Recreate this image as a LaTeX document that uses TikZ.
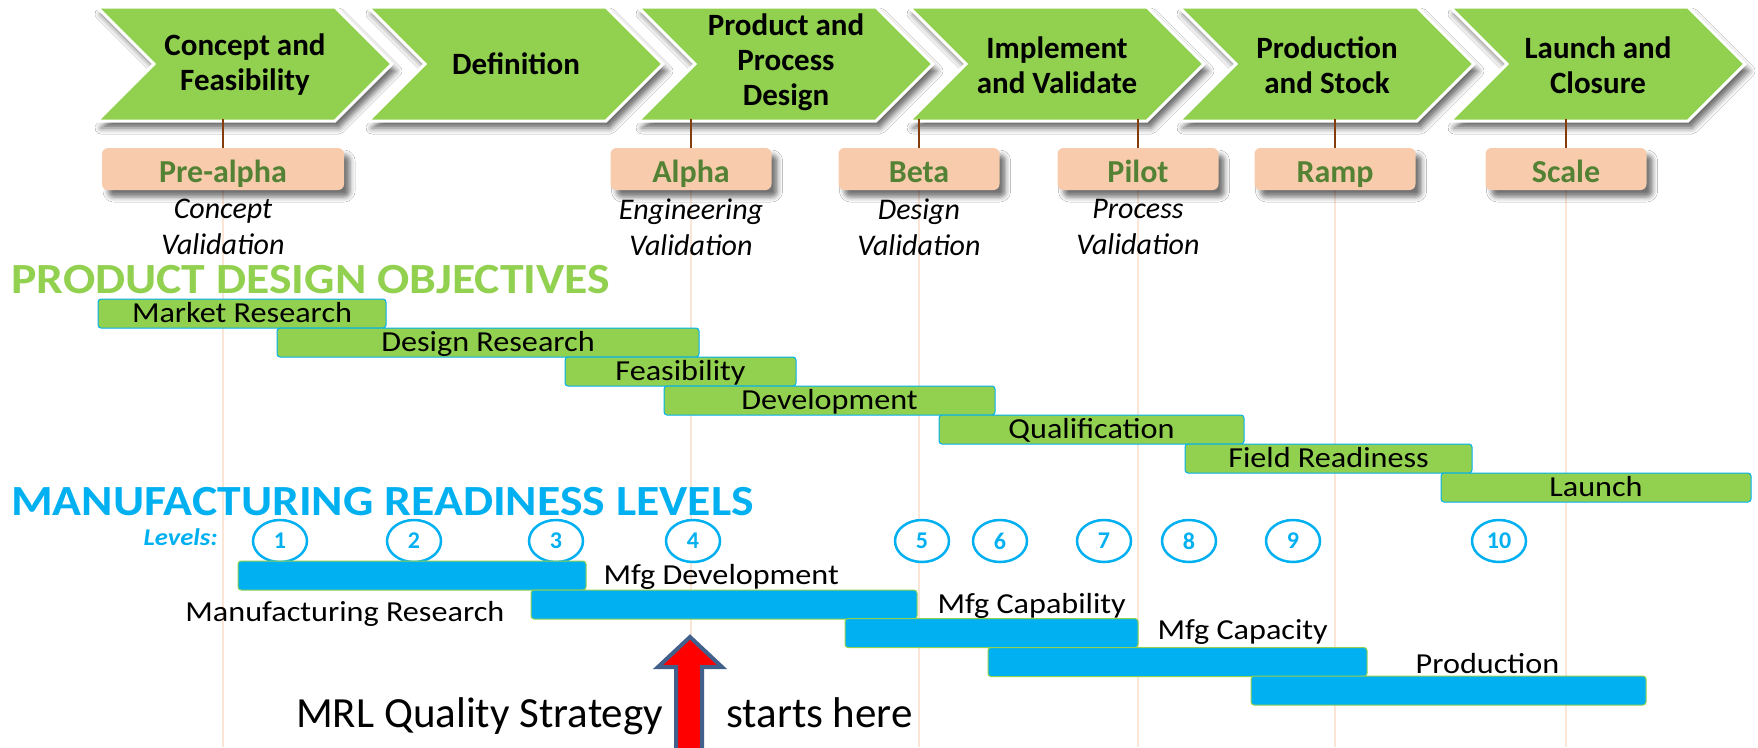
\documentclass[tikz,border=0pt]{standalone}
\usepackage{fontspec}
\setmainfont{Carlito}
\newfontfamily\widefont[FakeStretch=1.11]{Carlito}
\usepackage{tikz}
\usetikzlibrary{
  positioning, arrows.meta, calc, shapes.geometric,
  shadows.blur, backgrounds
}
\usepackage{xcolor}

\definecolor{phasegreen}{HTML}{92D050}
\definecolor{mrlblue}{HTML}{00B0F0}
\definecolor{gatepeach}{HTML}{F8CBAD}
\definecolor{gatetext}{HTML}{548235}
\definecolor{gatetick}{HTML}{843C0C}
\definecolor{guideline}{HTML}{FBE5D6}
\definecolor{arrowedge}{HTML}{41608C}

\newcommand{\fsz}[2]{\fontsize{#1}{#2}\selectfont}

\tikzset{
  phase/.style={fill=phasegreen, draw=white, line width=3pt, line join=miter,
    blur shadow={shadow xshift=4pt, shadow yshift=-7pt,
      shadow blur radius=6pt, shadow opacity=60}},
  phasetext/.style={align=center, font=\fsz{31}{35}\bfseries},
  gate/.style={fill=gatepeach, rounded corners=6pt, minimum height=42pt,
    inner sep=0pt, text height=28pt, text depth=2pt,
    font=\fsz{32}{34}\bfseries, text=gatetext,
    blur shadow={shadow xshift=6pt, shadow yshift=-7pt,
      shadow blur radius=5pt, shadow opacity=55}},
  gatetick/.style={draw=gatetick, line width=2pt},
  guide/.style={draw=guideline, line width=2pt},
  stage/.style={align=center, font=\fsz{30}{36}\itshape},
  heading/.style={font=\widefont\fsz{43}{48}\bfseries, anchor=base west,
    inner sep=0pt},
  objbar/.style={fill=phasegreen, draw=mrlblue, line width=1pt,
    rounded corners=3pt, minimum height=29pt, inner sep=0pt,
    text height=20pt, text depth=2pt, font=\widefont\fsz{29}{32}},
  mrlbar/.style={fill=mrlblue, draw=phasegreen, line width=1pt,
    rounded corners=3pt, minimum height=29pt, inner sep=0pt},
  mrllabel/.style={font=\widefont\fsz{29}{32}, inner sep=0pt},
  level/.style={ellipse, draw=mrlblue, line width=2.5pt, fill=white,
    minimum width=54pt, minimum height=42pt, inner sep=0pt,
    text=mrlblue, font=\fsz{24}{26}\bfseries},
}

\begin{document}
\begin{tikzpicture}[x=1pt, y=-1pt]
\useasboundingbox (0,0) rectangle (1758,747);
\coordinate (phasebase) at (0,119);
\coordinate (pagebottom) at (0,747);

% phase chevrons
\foreach \l/\ty/\txt [count=\i] in {97/65/{Concept and\\Feasibility},
    368/64/{Definition}, 638/62/{Product and\\Process\\Design},
    909/65/{Implement\\and Validate}, 1179/65/{Production\\and Stock},
    1450/65/{Launch and\\Closure}}{
  \path[phase, shift={(\l,0)}] (0,7) -- (238,7) -- (295,64) -- (238,121)
    -- (0,121) -- (57,64) -- cycle;
  \node[phasetext] (phase\i) at (\l+148,\ty) {\txt};
}

% gates
\node[gate, minimum width=242pt] (prealpha) at (223,169) {Pre-alpha};
\node[gate, minimum width=161pt] (alpha) at (691,169) {Alpha};
\node[gate, minimum width=161pt] (beta) at (919,169) {Beta};
\node[gate, minimum width=161pt] (pilot) at (1138,169) {Pilot};
\node[gate, minimum width=161pt] (ramp) at (1335,169) {Ramp};
\node[gate, minimum width=161pt] (scale) at (1566,169) {Scale};
\foreach \g in {prealpha, alpha, beta, pilot, ramp, scale}
  \draw[gatetick] (\g.north) -- (\g.north |- phasebase);

\node[stage] (conceptval) at (223,227) {Concept\\Validation};
\node[stage] (engval) at (691,227) {Engineering\\Validation};
\node[stage] (designval) at (919,227) {Design\\Validation};
\node[stage] (processval) at (1138,227) {Process\\Validation};

% product design objectives
\node[heading, text=phasegreen] (pdo) at (11,293) {PRODUCT DESIGN OBJECTIVES};
\node[objbar, minimum width=288pt] (market) at (242,313.5) {Market Research};
\node[objbar, minimum width=422pt] (designres) at (488,342.5) {Design Research};
\node[objbar, minimum width=231pt] (feas) at (680.5,371.5) {Feasibility};
\node[objbar, minimum width=331pt] (devel) at (829.5,400.5) {Development};
\node[objbar, minimum width=305pt] (qual) at (1091.5,429.5) {Qualification};
\node[objbar, minimum width=287pt] (field) at (1328.5,458.5) {Field Readiness};
\node[objbar, minimum width=310pt] (launch) at (1596,487.5) {Launch};

% manufacturing readiness levels
\node[heading, text=mrlblue] (mrl) at (11,515) {MANUFACTURING READINESS LEVELS};
\node[font=\widefont\fsz{24}{26}\bfseries\itshape, text=mrlblue, anchor=base east,
  inner sep=0pt] (levels) at (218,545) {Levels:};
\foreach \x [count=\n] in {280, 414, 556, 693, 922, 1000, 1104, 1189, 1293, 1499}
  \node[level] (lvl\n) at (\x,541) {\n};

\node[mrlbar, minimum width=348pt] (bar1) at (412,575.5) {};
\node[mrlbar, minimum width=386pt] (bar2) at (724,604.5) {};
\node[mrlbar, minimum width=293pt] (bar3) at (991.5,633) {};
\node[mrlbar, minimum width=379pt] (bar4) at (1177.5,662) {};
\node[mrlbar, minimum width=395pt] (bar5) at (1448.5,690.5) {};

\node[mrllabel, anchor=base west] (devlabel) at ([xshift=17pt, yshift=6pt]bar1.south east) {Mfg Development};
\node[mrllabel, anchor=base east] (reslabel) at ([xshift=-26pt, yshift=-2pt]bar2.south west) {Manufacturing Research};
\node[mrllabel, anchor=base west] (caplabel) at ([xshift=20pt, yshift=6pt]bar2.south east) {Mfg Capability};
\node[mrllabel, anchor=base west] (capacitylabel) at ([xshift=19pt, yshift=9pt]bar3.south east) {Mfg Capacity};
\node[mrllabel, anchor=base west] (prodlabel) at ([xshift=48pt, yshift=4pt]bar4.south east) {Production};

% start of the quality strategy
\draw[draw=arrowedge, fill=red, line width=4pt, line join=miter]
  (690,637) -- (722,667) -- (702,667) -- (702,755) -- (676,755)
  -- (676,667) -- (658,667) -- cycle;
\node[font=\fsz{43}{46}, anchor=base west, inner sep=0pt] (strategy) at (296,727) {MRL Quality Strategy};
\node[font=\fsz{43}{46}, anchor=base west, inner sep=0pt] (startshere) at (726,727) {starts here};

\begin{scope}[on background layer]
\fill[white] (0,0) rectangle (1758,747);
\foreach \g in {prealpha, alpha, beta, pilot, ramp, scale}
  \draw[guide] (\g.south) -- (\g.south |- pagebottom);
\end{scope}
\end{tikzpicture}
\end{document}
